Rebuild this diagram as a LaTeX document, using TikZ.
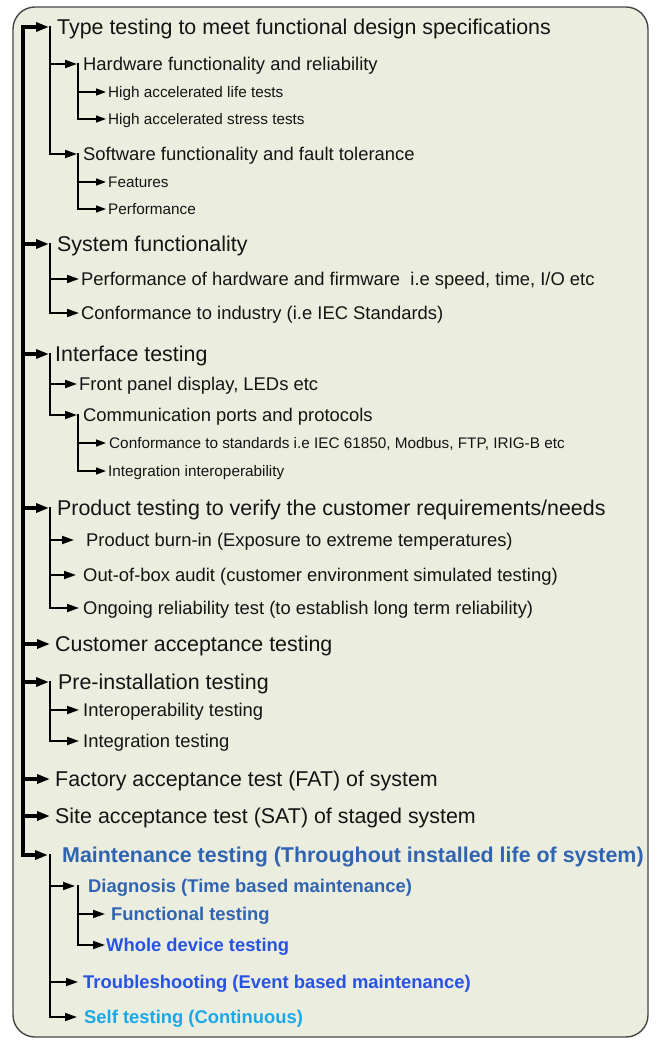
\documentclass[tikz,border=0pt]{standalone}
\usepackage{fontspec}
\setmainfont{Liberation Sans}
\usetikzlibrary{arrows.meta}
\definecolor{boxfill}{RGB}{235,238,223}
\definecolor{boxdraw}{RGB}{70,70,70}
\definecolor{txt}{RGB}{20,20,20}
\definecolor{mblue}{RGB}{48,100,176}
\definecolor{bblue}{RGB}{40,82,226}
\definecolor{cblue}{RGB}{26,168,232}
\tikzset{
  lone/.style={anchor=west, font=\fontsize{21.4}{24}\selectfont, text height=15.3pt, text depth=0pt, inner ysep=0pt, text=txt},
  ltwo/.style={anchor=west, font=\fontsize{18.4}{21}\selectfont, text height=13.2pt, text depth=0pt, inner ysep=0pt, text=txt},
  lthree/.style={anchor=west, font=\fontsize{15.3}{18}\selectfont, text height=11pt, text depth=0pt, inner ysep=0pt, text=txt},
  bluetwo/.style={ltwo, font=\fontsize{18.4}{21}\selectfont\bfseries},
  cone/.style={draw=black, line width=3.2pt, line cap=rect, -{Triangle[length=13pt,width=9pt]}},
  ctwo/.style={draw=black, line width=1.8pt, line cap=rect, -{Triangle[length=12pt,width=8pt]}},
  cthree/.style={draw=black, line width=1.5pt, line cap=rect, -{Triangle[length=10pt,width=7pt]}},
  boxstyle/.style={draw=boxdraw, fill=boxfill, line width=1.4pt, rounded corners=22pt}
}
\begin{document}
\begin{tikzpicture}[x=1pt,y=-1pt]
\useasboundingbox (0,0) rectangle (656,1040);
\draw[boxstyle] (13,7) rectangle (648,1037);

\coordinate (root) at (23,27);

% Level 1: Type testing
\node[lone, inner xsep=8pt] (t1) at (49,27) {Type testing to meet functional design specifications};
\coordinate (t1s) at (50,27);
\node[ltwo, inner xsep=6pt] (hw) at (77,64) {Hardware functionality and reliability};
\coordinate (hws) at (78,64);
\node[lthree, inner xsep=2pt] (hl) at (106,92) {High accelerated life tests};
\node[lthree, inner xsep=2pt] (hs) at (106,119) {High accelerated stress tests};
\node[ltwo, inner xsep=6pt] (sw) at (77,154) {Software functionality and fault tolerance};
\coordinate (sws) at (78,154);
\node[lthree, inner xsep=2pt] (fe) at (106,182) {Features};
\node[lthree, inner xsep=2pt] (pe) at (106,209) {Performance};

% System functionality
\node[lone, inner xsep=8pt] (t2) at (49,244) {System functionality};
\coordinate (t2s) at (50,244);
\node[ltwo, inner xsep=2pt] (ph) at (79,279) {Performance of hardware and firmware~ i.e speed, time, I/O etc};
\node[ltwo, inner xsep=2pt] (ci) at (79,313) {Conformance to industry (i.e IEC Standards)};

% Interface testing
\node[lone, inner xsep=6pt] (t3) at (49,354) {Interface testing};
\coordinate (t3s) at (50,354);
\node[ltwo, inner xsep=2pt] (fp) at (77,384) {Front panel display, LEDs etc};
\node[ltwo, inner xsep=6pt] (cp) at (77,415) {Communication ports and protocols};
\coordinate (cps) at (78,415);
\node[lthree, inner xsep=3pt] (cs) at (106,443) {Conformance to standards i.e IEC 61850, Modbus, FTP, IRIG-B etc};
\node[lthree, inner xsep=2pt] (ii) at (106,471) {Integration interoperability};

% Product testing
\node[lone, inner xsep=8pt] (t4) at (49,508) {Product testing to verify the customer requirements/needs};
\coordinate (t4s) at (50,508);
\node[ltwo, inner xsep=12pt] (bi) at (74,540) {Product burn-in (Exposure to extreme temperatures)};
\node[ltwo, inner xsep=7pt] (ob) at (76,575) {Out-of-box audit (customer environment simulated testing)};
\node[ltwo, inner xsep=4pt] (og) at (79,608) {Ongoing reliability test (to establish long term reliability)};

% Customer acceptance
\node[lone, inner xsep=5pt] (t5) at (50,644) {Customer acceptance testing};

% Pre-installation
\node[lone, inner xsep=9pt] (t6) at (49,682) {Pre-installation testing};
\coordinate (t6s) at (50,682);
\node[ltwo, inner xsep=4pt] (io) at (79,710) {Interoperability testing};
\node[ltwo, inner xsep=4pt] (it) at (79,741) {Integration testing};

% FAT, SAT
\node[lone, inner xsep=5pt] (t7) at (50,779) {Factory acceptance test (FAT) of system};
\node[lone, inner xsep=5pt] (t8) at (50,816) {Site acceptance test (SAT) of staged system};

% Maintenance
\node[lone, inner xsep=14pt, font=\fontsize{21.4}{24}\selectfont\bfseries, text=mblue] (t9) at (48,855) {Maintenance testing (Throughout installed life of system)};
\coordinate (t9s) at (50,855);
\node[bluetwo, inner xsep=13pt, text=mblue] (dg) at (75,886) {Diagnosis (Time based maintenance)};
\coordinate (dgs) at (78,886);
\node[bluetwo, inner xsep=6pt, text=mblue] (ft) at (105,914) {Functional testing};
\node[bluetwo, inner xsep=1pt, text=bblue] (wd) at (105,945) {Whole device testing};
\node[bluetwo, inner xsep=5pt, text=bblue] (tr) at (78,982) {Troubleshooting (Event based maintenance)};
\node[bluetwo, inner xsep=7pt, text=cblue] (st) at (77,1017) {Self testing (Continuous)};

% connectors level 1
\foreach \n in {t1,t2,t3,t4,t5,t6,t7,t8,t9}
  \draw[cone] (root) |- (\n.west);

% connectors level 2
\draw[ctwo] (t1s) |- (hw.west);
\draw[ctwo] (t1s) |- (sw.west);
\draw[ctwo] (t2s) |- (ph.west);
\draw[ctwo] (t2s) |- (ci.west);
\draw[ctwo] (t3s) |- (fp.west);
\draw[ctwo] (t3s) |- (cp.west);
\draw[ctwo] (t4s) |- (bi.west);
\draw[ctwo] (t4s) |- (ob.west);
\draw[ctwo] (t4s) |- (og.west);
\draw[ctwo] (t6s) |- (io.west);
\draw[ctwo] (t6s) |- (it.west);
\draw[ctwo] (t9s) |- (dg.west);
\draw[ctwo] (t9s) |- (tr.west);
\draw[ctwo] (t9s) |- (st.west);

% connectors level 3
\draw[cthree] (hws) |- (hl.west);
\draw[cthree] (hws) |- (hs.west);
\draw[cthree] (sws) |- (fe.west);
\draw[cthree] (sws) |- (pe.west);
\draw[cthree] (cps) |- (cs.west);
\draw[cthree] (cps) |- (ii.west);
\draw[ctwo] (dgs) |- (ft.west);
\draw[ctwo] (dgs) |- (wd.west);
\end{tikzpicture}
\end{document}
